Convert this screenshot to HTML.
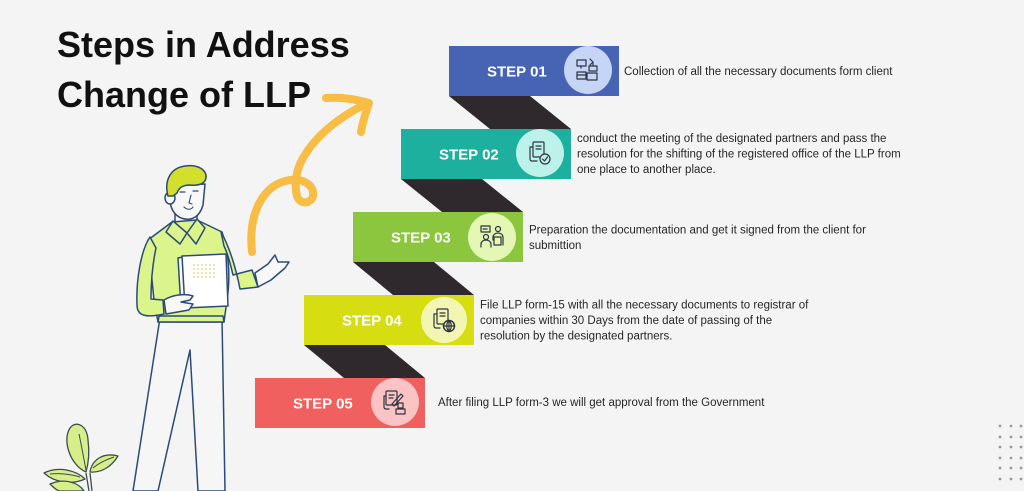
<!DOCTYPE html>
<html>
<head>
<meta charset="utf-8">
<style>
html,body{margin:0;padding:0;background:#f4f4f4;}
body{width:1024px;height:491px;overflow:hidden;}
svg{display:block;}
.t{font-family:"Liberation Sans",Arial,sans-serif;}
</style>
</head>
<body>
<svg width="1024" height="491" viewBox="0 0 1024 491" xmlns="http://www.w3.org/2000/svg">
<rect width="1024" height="491" fill="#f4f4f4"/>

<!-- Title -->
<text class="t" x="57" y="57" font-size="36" font-weight="bold" fill="#111">Steps in Address</text>
<text class="t" x="57" y="107" font-size="36" font-weight="bold" fill="#111">Change of LLP</text>

<!-- Connectors -->
<g fill="#2f292e">
<polygon points="449,96 530,96 571,129 490,129"/>
<polygon points="401,179 482,179 523,212 442,212"/>
<polygon points="353,262 434,262 474,295 393,295"/>
<polygon points="304,345 385,345 425,378 344,378"/>
</g>

<!-- Step boxes -->
<rect x="449" y="46" width="170" height="50" fill="#4763b3"/>
<rect x="401" y="129" width="170" height="50" fill="#1db09e"/>
<rect x="353" y="212" width="170" height="50" fill="#8cc63e"/>
<rect x="304" y="295" width="170" height="50" fill="#d6dd10"/>
<rect x="255" y="378" width="170" height="50" fill="#f0605f"/>

<!-- Circles -->
<circle cx="588" cy="70" r="24" fill="#c6d4f5"/>
<circle cx="540" cy="153" r="24" fill="#bdf2ea"/>
<circle cx="492" cy="237" r="24" fill="#e4f7b4"/>
<circle cx="444" cy="320" r="23" fill="#f3f6b2"/>
<circle cx="395" cy="402" r="24" fill="#fbc3c3"/>

<!-- Step labels -->
<g class="t" font-size="15" font-weight="bold" fill="#ffffff">
<text x="487" y="76.5">STEP 01</text>
<text x="439" y="159.5">STEP 02</text>
<text x="391" y="242.5">STEP 03</text>
<text x="342" y="325.5">STEP 04</text>
<text x="293" y="408.5">STEP 05</text>
</g>

<!-- Icons -->
<g fill="none" stroke="#2e3440" stroke-width="1.2" stroke-linejoin="round" stroke-linecap="round">
  <!-- step 1 -->
  <g transform="translate(588,70)">
    <rect x="-11" y="-10" width="9" height="6"/>
    <line x1="-7" y1="-4" x2="-7" y2="-2"/>
    <path d="M2,-11 l3,3 l-3,3 M5,-8 v4"/>
    <rect x="1" y="-4" width="8" height="5"/>
    <rect x="-11" y="2" width="9" height="7"/>
    <rect x="-1" y="3" width="10" height="7"/>
    <line x1="-11" y1="5" x2="-2" y2="5"/>
  </g>
  <!-- step 2 -->
  <g transform="translate(540,153)">
    <rect x="-7" y="-11" width="11" height="15" rx="1"/>
    <path d="M-7,-6 h-3 v12 a2,2 0 0 0 2,2 h5"/>
    <line x1="-4" y1="-7" x2="1" y2="-7"/>
    <line x1="-4" y1="-4" x2="1" y2="-4"/>
    <circle cx="5" cy="6" r="5" fill="#bdf2ea"/>
    <path d="M2.5,6 l2,2 l3,-4"/>
  </g>
  <!-- step 3 -->
  <g transform="translate(492,237)">
    <rect x="-11" y="-11" width="9" height="6"/>
    <line x1="-9" y1="-8" x2="-5" y2="-8"/>
    <circle cx="-6" cy="0" r="2.5"/>
    <path d="M-11,10 v-3 a5,4 0 0 1 10,0 v3"/>
    <circle cx="6" cy="-8" r="2.5"/>
    <path d="M1,3 v-3 a5,4 0 0 1 10,0 v8"/>
    <rect x="2" y="0" width="7" height="8"/>
  </g>
  <!-- step 4 -->
  <g transform="translate(444,320)">
    <rect x="-7" y="-11" width="11" height="15" rx="1"/>
    <path d="M-7,-6 h-3 v12 a2,2 0 0 0 2,2 h4"/>
    <line x1="-4" y1="-7" x2="1" y2="-7"/>
    <line x1="-4" y1="-4" x2="1" y2="-4"/>
    <circle cx="5" cy="6" r="5.5" fill="#f3f6b2" stroke-width="1.5"/>
    <path d="M-0.5,6 h11 M5,0.5 v11 M5,0.5 c-3,3 -3,8 0,11 M5,0.5 c3,3 3,8 0,11"/>
  </g>
  <!-- step 5 -->
  <g transform="translate(395,402)">
    <rect x="-9" y="-11" width="11" height="14" rx="1"/>
    <path d="M-9,-6 h-2 v11 a2,2 0 0 0 2,2 h3"/>
    <line x1="-6" y1="-7" x2="-1" y2="-7"/>
    <line x1="-6" y1="-4" x2="-2" y2="-4"/>
    <path d="M-3,2 l9,-10 l2,2 l-9,10 z"/>
    <rect x="3" y="1" width="5" height="5"/>
    <rect x="1" y="7" width="9" height="5"/>
  </g>
</g>

<!-- Descriptions -->
<g class="t" font-size="11.5" fill="#262626">
<text x="624" y="75">Collection of all the necessary documents form client</text>
<text x="577" y="142">conduct the meeting of the designated partners and pass the</text>
<text x="577" y="157.5">resolution for the shifting of the registered office of the LLP from</text>
<text x="577" y="173">one place to another place.</text>
<text x="529" y="233.5">Preparation the documentation and get it signed from the client for</text>
<text x="529" y="249">submittion</text>
<text x="480" y="308.5">File LLP form-15 with all the necessary documents to registrar of</text>
<text x="480" y="324">companies within 30 Days from the date of passing of the</text>
<text x="480" y="339.5">resolution by the designated partners.</text>
<text x="438" y="406">After filing LLP form-3 we will get approval from the Government</text>
</g>

<!-- Yellow curly arrow -->
<g fill="none" stroke="#f7bd45" stroke-width="8" stroke-linecap="round" stroke-linejoin="round">
<path d="M252,252 C248,215 262,184 290,180 C302,178 315,185 313,196 C311,204 300,205 297,196 C294,185 296,170 303,158 C315,137 338,117 368,103"/>
<path d="M326,98 C345,97 358,100 369,103 C365,115 362,125 361,132"/>
</g>

<!-- Person -->
<g stroke="#2b4a78" stroke-width="1.5" stroke-linejoin="round" stroke-linecap="round">
  <!-- pants -->
  <path d="M160,318 L133,491 L158,491 L190,350 L198,491 L225,491 L222,318 Z" fill="#f6f6f6"/>
  <!-- neck -->
  <path d="M175,208 L175,226 L187,233 L197,222 L197,208 Z" fill="#f8f8f8"/>
  <!-- torso -->
  <path d="M172,222 L197,220 L222,232 C228,250 231,275 227,300 L224,322 L158,322 L154,300 L148,240 Z" fill="#dcf48c"/>
  <!-- left arm -->
  <path d="M150,237 C141,250 136,280 137,305 C137,316 146,318 164,314 L163,300 L151,299 C151,282 153,262 156,248 Z" fill="#dcf48c"/>
  <!-- right arm -->
  <path d="M221,232 C229,246 236,268 240,289 L258,287 L252,270 L233,275 C230,262 227,252 224,246 Z" fill="#dcf48c"/>
  <!-- collar -->
  <path d="M173,221 L166,232 L180,244 L187,233 Z" fill="#dcf48c"/>
  <path d="M197,219 L205,228 L196,244 L187,233 Z" fill="#dcf48c"/>
  <!-- right hand -->
  <path d="M255,273 L268,264 L275,255 L278,262 L289,262 L285,268 L271,280 L258,287 Z" fill="#f8f8f8"/>
  <!-- papers -->
  <path d="M178,258 L183,257 L186,308 L181,308 Z" fill="#f8f8f8"/>
  <path d="M182,256 L226,254 L228,306 L185,308 Z" fill="#ffffff"/>
  <!-- left hand -->
  <path d="M164,300 C172,295 185,293 193,296 L190,300 L181,302 L193,304 L189,310 L166,314 Z" fill="#f8f8f8"/>
  <!-- face -->
  <path d="M171,186 C168,200 170,213 181,218 C192,222 200,216 203,205 L205,184 Z" fill="#f8f8f8"/>
  <ellipse cx="170" cy="198" rx="5" ry="6" fill="#f8f8f8"/>
  <!-- hair -->
  <path d="M168,196 C164,181 170,168 185,166 C198,164 207,170 206,178 C205,184 198,186 190,185 C184,185 179,187 177,193 L173,196 Z" fill="#d3df2d"/>
  <!-- face features -->
  <path d="M180,192 l5,0 M193,191 l5,0" fill="none" stroke-width="1.2"/>
  <path d="M191,195 l-2,8 l3,1" fill="none" stroke-width="1.1"/>
  <path d="M184,207 c3,3 7,3 9,0" fill="none" stroke-width="1.1"/>
  <path d="M158,322 L224,322 L223,316 L159,316 Z" fill="#dcf48c"/>
</g>
<!-- paper dots -->
<g fill="#d9d36a">
  <circle cx="194" cy="265" r="0.9"/><circle cx="198" cy="265" r="0.9"/><circle cx="202" cy="265" r="0.9"/><circle cx="206" cy="265" r="0.9"/><circle cx="210" cy="265" r="0.9"/><circle cx="214" cy="265" r="0.9"/>
  <circle cx="194" cy="269" r="0.9"/><circle cx="198" cy="269" r="0.9"/><circle cx="202" cy="269" r="0.9"/><circle cx="206" cy="269" r="0.9"/><circle cx="210" cy="269" r="0.9"/><circle cx="214" cy="269" r="0.9"/>
  <circle cx="194" cy="273" r="0.9"/><circle cx="198" cy="273" r="0.9"/><circle cx="202" cy="273" r="0.9"/><circle cx="206" cy="273" r="0.9"/><circle cx="210" cy="273" r="0.9"/><circle cx="214" cy="273" r="0.9"/>
  <circle cx="194" cy="277" r="0.9"/><circle cx="198" cy="277" r="0.9"/><circle cx="202" cy="277" r="0.9"/><circle cx="206" cy="277" r="0.9"/><circle cx="210" cy="277" r="0.9"/><circle cx="214" cy="277" r="0.9"/>
</g>

<!-- Plant -->
<g stroke="#3d4b4f" stroke-width="1.3" stroke-linejoin="round" fill="#d8ee8a">
  <path d="M86,473 L89,491 M90,473 L92,491" fill="none"/>
  <path d="M86,472 C70,465 62,440 70,428 C76,420 87,425 88,440 C90,455 88,465 86,472 Z"/>
  <path d="M90,472 C92,460 103,452 118,456 C112,466 102,473 90,472 Z"/>
  <path d="M85,479 C76,470 58,466 44,473 C55,483 72,485 85,479 Z"/>
  <path d="M84,491 C78,482 64,478 50,484 C54,488 58,491 60,491 Z"/>
  <path d="M79,434 C82,448 84,460 86,470 M93,468 C100,462 108,459 114,457 M80,477 C70,474 60,473 50,474" fill="none" stroke-width="1"/>
</g>

<!-- Dots grid -->
<g fill="#9a9a9a">
  <circle cx="1000" cy="426" r="1.4"/><circle cx="1011" cy="426" r="1.4"/><circle cx="1021" cy="426" r="1.4"/>
  <circle cx="1000" cy="437" r="1.4"/><circle cx="1011" cy="437" r="1.4"/><circle cx="1021" cy="437" r="1.4"/>
  <circle cx="1000" cy="447" r="1.4"/><circle cx="1011" cy="447" r="1.4"/><circle cx="1021" cy="447" r="1.4"/>
  <circle cx="1000" cy="458" r="1.4"/><circle cx="1011" cy="458" r="1.4"/><circle cx="1021" cy="458" r="1.4"/>
  <circle cx="1000" cy="468" r="1.4"/><circle cx="1011" cy="468" r="1.4"/><circle cx="1021" cy="468" r="1.4"/>
  <circle cx="1000" cy="479" r="1.4"/><circle cx="1011" cy="479" r="1.4"/><circle cx="1021" cy="479" r="1.4"/>
</g>
</svg>
</body>
</html>
